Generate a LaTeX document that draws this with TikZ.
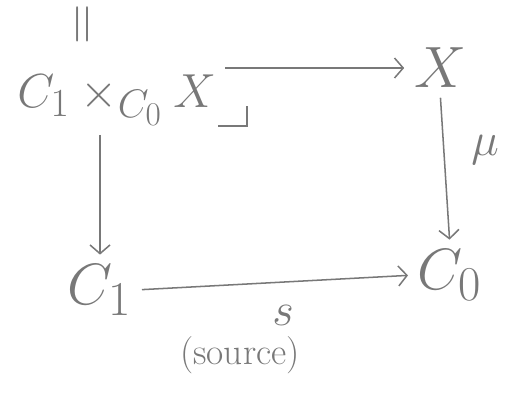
\documentclass[tikz,border=0pt]{standalone}
\usepackage{amsmath,amssymb}
\usepackage{xcolor}
\usetikzlibrary{positioning, arrows.meta, calc}
\definecolor{pencil}{gray}{0.47}
\tikzset{
  objnode/.style={
    text=pencil,
    font=\Huge,
    scale=2.0,
    transform shape,
    inner sep=1pt
  },
  maparrow/.style={
    draw=pencil,
    line width=1.3pt,
    -{Straight Barb[length=2.6mm,width=6mm,line width=1.3pt]},
    shorten >=6pt,
    shorten <=6pt
  },
  maplabel/.style={
    text=pencil,
    font=\Huge,
    scale=1.6,
    transform shape,
    inner sep=1pt
  }
}
\begin{document}
\begin{tikzpicture}
  \useasboundingbox (0,0) rectangle (15.54,11.82);
  \node[objnode, scale=0.82] (pb) at (3.5,8.82) {$C_1\times_{C_0}X$};
  \node[objnode] (x)  at (13.2,9.78) {$X$};
  \node[objnode] (c0) at (13.5,3.57) {$C_0$};
  \node[objnode] (c1) at (3.0,3.12)  {$C_1$};
  \node[maplabel, rotate=90, scale=1.2] (eq) at (2.6,11.1) {$=$};
  \draw[maparrow] (x.west -| pb.east) -- (x.west);
  \draw[maparrow] (x.south) -- (c0.north);
  \draw[maparrow] (c1 |- pb.south) -- (c1.north);
  \draw[maparrow] (c1.east) -- (c0.west);
  \node[maplabel] (mu) at (14.55,7.32) {$\mu$};
  \node[maplabel] (s) at (8.49,2.35) {$s$};
  \node[maplabel, scale=0.8] (src) at (7.2,1.15) {(source)};
  % pullback corner
  \coordinate (pbcorner) at (7.4,8.05);
  \draw[pencil, line width=1.6pt] ($(pbcorner)+(-0.85,0)$) -- (pbcorner) -- ++(0,0.6);
\end{tikzpicture}
\end{document}
